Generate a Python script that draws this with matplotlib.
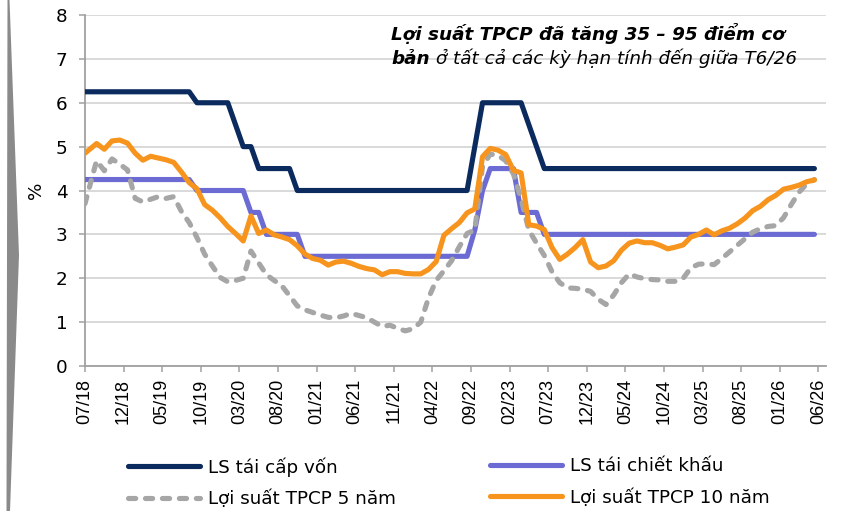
import matplotlib
matplotlib.use("Agg")
import matplotlib.pyplot as plt
from matplotlib.patches import Polygon

W, H, DPI = 864, 511, 100

# ---------------- data ----------------
# observation positions, in months since 07/2018 (first point at start, then mid-month)
obs_month = [0] + [k + 0.5 for k in range(1, 95)]

tick_months = [0, 5, 10, 15, 20, 25, 30, 35, 40, 45, 50, 55, 60, 65, 70, 75, 80, 85, 90, 95]
tick_labels = ["07/18", "12/18", "05/19", "10/19", "03/20", "08/20", "01/21", "06/21",
               "11/21", "04/22", "09/22", "02/23", "07/23", "12/23", "05/24", "10/24",
               "03/25", "08/25", "01/26", "06/26"]

refi_rate = [6.25, 6.25, 6.25, 6.25, 6.25, 6.25, 6.25, 6.25, 6.25, 6.25,
             6.25, 6.25, 6.25, 6.25, 6.0, 6.0, 6.0, 6.0, 6.0, 5.5,
             5.0, 5.0, 4.5, 4.5, 4.5, 4.5, 4.5, 4.0, 4.0, 4.0,
             4.0, 4.0, 4.0, 4.0, 4.0, 4.0, 4.0, 4.0, 4.0, 4.0,
             4.0, 4.0, 4.0, 4.0, 4.0, 4.0, 4.0, 4.0, 4.0, 4.0,
             5.0, 6.0, 6.0, 6.0, 6.0, 6.0, 6.0, 5.5, 5.0, 4.5,
             4.5, 4.5, 4.5, 4.5, 4.5, 4.5, 4.5, 4.5, 4.5, 4.5,
             4.5, 4.5, 4.5, 4.5, 4.5, 4.5, 4.5, 4.5, 4.5, 4.5,
             4.5, 4.5, 4.5, 4.5, 4.5, 4.5, 4.5, 4.5, 4.5, 4.5,
             4.5, 4.5, 4.5, 4.5, 4.5]

disc_rate = [4.25, 4.25, 4.25, 4.25, 4.25, 4.25, 4.25, 4.25, 4.25, 4.25,
             4.25, 4.25, 4.25, 4.25, 4.0, 4.0, 4.0, 4.0, 4.0, 4.0,
             4.0, 3.5, 3.5, 3.0, 3.0, 3.0, 3.0, 3.0, 2.5, 2.5,
             2.5, 2.5, 2.5, 2.5, 2.5, 2.5, 2.5, 2.5, 2.5, 2.5,
             2.5, 2.5, 2.5, 2.5, 2.5, 2.5, 2.5, 2.5, 2.5, 2.5,
             3.1, 4.0, 4.5, 4.5, 4.5, 4.5, 3.5, 3.5, 3.5, 3.0,
             3.0, 3.0, 3.0, 3.0, 3.0, 3.0, 3.0, 3.0, 3.0, 3.0,
             3.0, 3.0, 3.0, 3.0, 3.0, 3.0, 3.0, 3.0, 3.0, 3.0,
             3.0, 3.0, 3.0, 3.0, 3.0, 3.0, 3.0, 3.0, 3.0, 3.0,
             3.0, 3.0, 3.0, 3.0, 3.0]

yield_5y = [3.70, 4.68, 4.45, 4.72, 4.60, 4.47, 3.82, 3.74, 3.80, 3.86,
            3.82, 3.86, 3.52, 3.27, 2.93, 2.55, 2.28, 2.02, 1.92, 1.95,
            2.00, 2.62, 2.35, 2.08, 1.95, 1.83, 1.60, 1.37, 1.28, 1.22,
            1.16, 1.11, 1.10, 1.14, 1.20, 1.15, 1.10, 1.00, 0.90, 0.93,
            0.86, 0.80, 0.85, 1.00, 1.55, 1.95, 2.17, 2.40, 2.72, 3.02,
            3.10, 4.55, 4.83, 4.80, 4.68, 4.38, 3.80, 3.10, 2.80, 2.52,
            2.15, 1.90, 1.78, 1.77, 1.75, 1.70, 1.52, 1.40, 1.62, 1.90,
            2.10, 2.03, 1.99, 1.97, 1.96, 1.93, 1.93, 2.00, 2.24, 2.32,
            2.33, 2.31, 2.45, 2.60, 2.75, 2.90, 3.05, 3.13, 3.18, 3.20,
            3.38, 3.68, 3.96, 4.15, 4.25]

yield_10y = [4.85, 5.07, 4.94, 5.13, 5.15, 5.08, 4.85, 4.69, 4.78, 4.74,
             4.70, 4.64, 4.42, 4.18, 4.04, 3.68, 3.55, 3.38, 3.18, 3.02,
             2.85, 3.42, 3.02, 3.10, 2.99, 2.94, 2.88, 2.74, 2.55, 2.45,
             2.41, 2.30, 2.37, 2.39, 2.34, 2.27, 2.22, 2.19, 2.08, 2.15,
             2.15, 2.11, 2.10, 2.10, 2.20, 2.38, 2.98, 3.13, 3.27, 3.49,
             3.58, 4.77, 4.96, 4.92, 4.82, 4.46, 4.40, 3.22, 3.19, 3.11,
             2.70, 2.43, 2.55, 2.70, 2.88, 2.37, 2.24, 2.28, 2.40, 2.64,
             2.80, 2.85, 2.81, 2.81, 2.75, 2.67, 2.71, 2.76, 2.94, 3.00,
             3.10, 2.99, 3.08, 3.14, 3.24, 3.37, 3.54, 3.64, 3.79, 3.89,
             4.03, 4.07, 4.12, 4.20, 4.24]

series_names = ["LS tái cấp vốn", "LS tái chiết khấu", "Lợi suất TPCP 5 năm", "Lợi suất TPCP 10 năm"]

# ---------------- style ----------------
C_REFI = "#0B2A5E"
C_DISC = "#6B6BD3"
C_5Y = "#A6A6A6"
C_10Y = "#F7941D"
GRID = "#D9D9D9"
AXIS = "#A0A0A0"
LW = 3.7
FS = 13.2

plt.rcParams["font.family"] = ["DejaVu Sans"]

fig = plt.figure(figsize=(W / DPI, H / DPI), dpi=DPI)
fig.patch.set_facecolor("white")

def px_box(left, top, right, bottom):
    return [left / W, 1 - bottom / H, (right - left) / W, (bottom - top) / H]

ax = fig.add_axes(px_box(85, 15, 826, 366))

common = dict(linewidth=LW, solid_capstyle="round", solid_joinstyle="round")
l1, = ax.plot(obs_month, refi_rate, color=C_REFI, label=series_names[0], zorder=3, **common)
l2, = ax.plot(obs_month, disc_rate, color=C_DISC, label=series_names[1], zorder=3, **common)
l3, = ax.plot(obs_month, yield_5y, color=C_5Y, label=series_names[2], zorder=3,
              linewidth=LW, dashes=(1.4, 1.9), dash_capstyle="round", dash_joinstyle="round")
l4, = ax.plot(obs_month, yield_10y, color=C_10Y, label=series_names[3], zorder=4, **common)

ax.set_xlim(0, 96)
ax.set_ylim(0, 8)
ax.set_yticks(range(0, 9))
ax.set_xticks(tick_months)
ax.set_xticklabels(tick_labels, rotation=90, fontsize=13, family="Liberation Sans")
ax.tick_params(axis="y", labelsize=FS, length=4.3, width=1.1, color=AXIS, pad=8.4)
ax.tick_params(axis="x", length=4.3, width=1.1, color=AXIS, pad=5.0)
ax.grid(axis="y", color=GRID, linewidth=1.4)
ax.set_axisbelow(True)
for s in ["top", "right"]:
    ax.spines[s].set_visible(False)
for s in ["left", "bottom"]:
    ax.spines[s].set_color(AXIS)
    ax.spines[s].set_linewidth(1.3)

ax.set_ylabel("%", fontsize=FS, labelpad=8)

# annotation text
t1 = fig.text(391 / W, 1 - 40 / H, "Lợi suất TPCP đã tăng 35 – 95 điểm cơ",
              fontsize=FS, fontweight="bold", fontstyle="italic", va="baseline", ha="left")
t2 = fig.text(391 / W, 1 - 63.5 / H, "bản",
              fontsize=FS, fontweight="bold", fontstyle="italic", va="baseline", ha="left")
fig.canvas.draw()
ann = fig.text(0, 0, " ở tất cả các kỳ hạn tính đến giữa T6/26", fontsize=FS,
               fontstyle="italic", va="baseline", ha="left")
bb = t2.get_window_extent()
ann.set_position((bb.x1 / W, 1 - 63.5 / H))

# legends (two columns)
leg_kw = dict(frameon=False, fontsize=FS, borderpad=0, handlelength=3.9,
              handletextpad=0.45, labelspacing=0.72, loc="upper left")
leg1 = fig.legend([l1, l3], [series_names[0], series_names[2]],
                  bbox_to_anchor=(119 / W, 1 - 448 / H), **leg_kw)
leg2 = fig.legend([l2, l4], [series_names[1], series_names[3]],
                  bbox_to_anchor=(481 / W, 1 - 448 / H), **leg_kw)

# left decorative bar
bar = Polygon([(7.5 / W, 1.0), (9.5 / W, 1.0), (19 / W, 1 - 255 / H), (10 / W, 0.0), (6.5 / W, 0.0)],
              closed=True, transform=fig.transFigure, facecolor="#8A8A8A", edgecolor="none")
fig.patches.append(bar)

fig.savefig("out.png", dpi=DPI, facecolor="white")
